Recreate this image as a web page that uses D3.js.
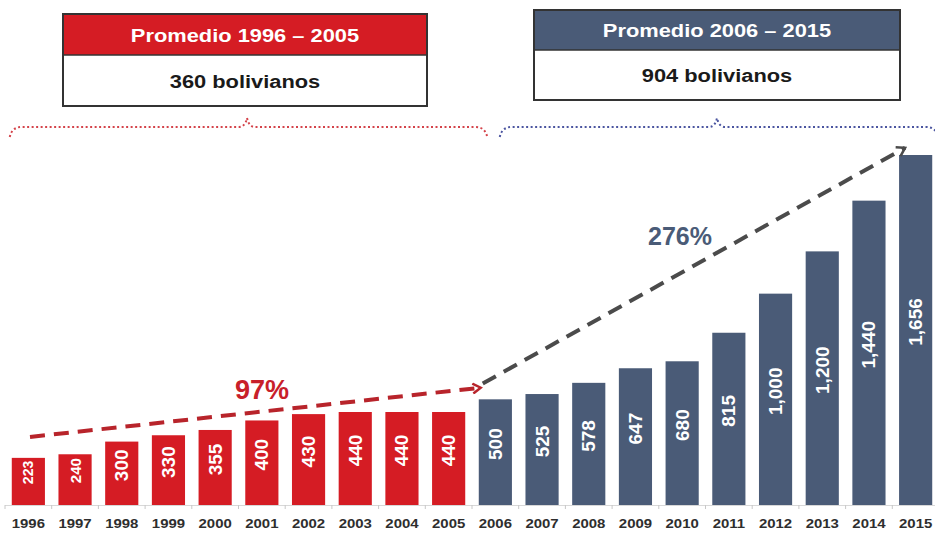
<!DOCTYPE html>
<html>
<head>
<meta charset="utf-8">
<script src="https://cdn.jsdelivr.net/npm/d3@7"></script>
<style>
  body { margin: 0; background: #fff; }
  svg { display: block; font-family: "Liberation Sans", Arial, sans-serif; }
</style>
</head>
<body>
<div id="chart"></div>
<script>
// data
var years = ["1996","1997","1998","1999","2000","2001","2002","2003","2004","2005",
             "2006","2007","2008","2009","2010","2011","2012","2013","2014","2015"];
var salary = [223,240,300,330,355,400,430,440,440,440,
              500,525,578,647,680,815,1000,1200,1440,1656];
var periodTitles = ["Promedio 1996 – 2005", "Promedio 2006 – 2015"];
var periodAverages = ["360 bolivianos", "904 bolivianos"];
var growthLabels = ["97%", "276%"];

var width = 935, height = 533;
var red = "#d51c24", blue = "#4a5b77", redDash = "#b8242b", grayDash = "#4b4b4b";
var stretch = 1.15;

var svg = d3.select("#chart").append("svg")
    .attr("width", width)
    .attr("height", height);

var x = d3.scaleBand()
    .domain(years)
    .range([5, 939])
    .paddingInner(0.29)
    .paddingOuter(0.145);

var y = d3.scaleLinear()
    .domain([0, d3.max(salary)])
    .range([505, 155]);

var colorOf = function(i) { return i < 10 ? red : blue; };

// baseline + little ticks
svg.append("line")
    .attr("x1", 5).attr("x2", 935)
    .attr("y1", y(0) + 0.5).attr("y2", y(0) + 0.5)
    .attr("stroke", "#d8d8d8");
svg.append("g").selectAll("line")
    .data(years)
    .enter().append("line")
      .attr("x1", function(d) { return x(d) - x.step() * 0.145; })
      .attr("x2", function(d) { return x(d) - x.step() * 0.145; })
      .attr("y1", y(0)).attr("y2", y(0) + 4)
      .attr("stroke", "#c8c8c8");

// bars
svg.append("g").selectAll("rect")
    .data(salary)
    .enter().append("rect")
      .attr("x", function(d, i) { return x(years[i]); })
      .attr("y", function(d) { return y(d); })
      .attr("width", x.bandwidth())
      .attr("height", function(d) { return y(0) - y(d); })
      .attr("fill", function(d, i) { return colorOf(i); });

// value labels inside bars (short bars get a smaller font)
var fmt = d3.format(",");
svg.append("g").selectAll("text")
    .data(salary)
    .enter().append("text")
      .attr("transform", function(d, i) {
        var cx = x(years[i]) + x.bandwidth() / 2;
        var cy = (y(d) + y(0)) / 2 - 8;
        if (y(0) - y(d) < 60) cy = (y(d) + y(0)) / 2 - 9;
        return "translate(" + cx + "," + cy + ") rotate(-90)";
      })
      .attr("text-anchor", "middle")
      .attr("dominant-baseline", "central")
      .attr("fill", "#fff")
      .attr("font-weight", "bold")
      .attr("font-size", function(d) { return Math.min(19, (y(0) - y(d)) * 0.3) + "px"; })
      .text(function(d) { return fmt(d); });

// year labels
svg.append("g").selectAll("text")
    .data(years)
    .enter().append("text")
      .attr("transform", function(d) {
        return "translate(" + (x(d) + x.bandwidth() / 2) + ",528) scale(" + stretch + ",1)";
      })
      .attr("text-anchor", "middle")
      .attr("fill", "#2e2e2e")
      .attr("font-weight", "bold")
      .attr("font-size", "13px")
      .text(function(d) { return d; });

// dashed trend arrows
var defs = svg.append("defs");
[["arrowRed", redDash], ["arrowGray", grayDash]].forEach(function(m) {
  defs.append("marker")
      .attr("id", m[0])
      .attr("viewBox", "-10 -6 12 12")
      .attr("refX", 0).attr("refY", 0)
      .attr("markerWidth", 12).attr("markerHeight", 12)
      .attr("markerUnits", "userSpaceOnUse")
      .attr("orient", "auto")
    .append("path")
      .attr("d", "M-8,-5 L0,0 L-8,5")
      .attr("fill", "none")
      .attr("stroke", m[1])
      .attr("stroke-width", 2.5);
});

var bw = x.bandwidth();
svg.append("line")
    .attr("x1", x("1996") + bw * 0.55).attr("y1", y(322))
    .attr("x2", x("2006") + 2).attr("y2", y(555))
    .attr("stroke", redDash)
    .attr("stroke-width", 4)
    .attr("stroke-dasharray", "15,9")
    .attr("marker-end", "url(#arrowRed)");

svg.append("line")
    .attr("x1", x("2006") + 4).attr("y1", y(575))
    .attr("x2", x("2015") + 6).attr("y2", y(1690))
    .attr("stroke", grayDash)
    .attr("stroke-width", 4)
    .attr("stroke-dasharray", "15,9")
    .attr("marker-end", "url(#arrowGray)");

svg.append("text")
    .attr("x", 262).attr("y", 399)
    .attr("text-anchor", "middle")
    .attr("fill", "#c8202a")
    .attr("font-weight", "bold")
    .attr("font-size", "27px")
    .text(growthLabels[0]);

svg.append("text")
    .attr("x", 680).attr("y", 245)
    .attr("text-anchor", "middle")
    .attr("fill", blue)
    .attr("font-weight", "bold")
    .attr("font-size", "25px")
    .text(growthLabels[1]);

// dotted curly brackets over each period
function brace(x0, x1, xm, col) {
  var yl = 127;
  var p = d3.path();
  p.moveTo(x0, yl + 10);
  p.quadraticCurveTo(x0 + 2, yl, x0 + 12, yl);
  p.lineTo(xm - 8, yl);
  p.quadraticCurveTo(xm - 2, yl, xm, yl - 9);
  p.quadraticCurveTo(xm + 2, yl, xm + 8, yl);
  p.lineTo(x1 - 12, yl);
  p.quadraticCurveTo(x1 - 2, yl, x1, yl + 10);
  svg.append("path")
      .attr("d", p.toString())
      .attr("fill", "none")
      .attr("stroke", col)
      .attr("stroke-width", 2)
      .attr("stroke-dasharray", "2,2.5");
}
brace(x("1996") - 2, x("2005") + bw + 22, 247, "#d4434a");
brace(x("2006") + 21, 938, 717, "#4b55a0");

// summary boxes
var boxes = [
  {x0: 63, x1: 427, top: 14, mid: 55, bottom: 106, fill: red},
  {x0: 534, x1: 900, top: 10, mid: 50, bottom: 100, fill: blue}
];
boxes.forEach(function(b, i) {
  var g = svg.append("g");
  g.append("rect")
      .attr("x", b.x0).attr("y", b.top)
      .attr("width", b.x1 - b.x0).attr("height", b.bottom - b.top)
      .attr("fill", "#fff");
  g.append("rect")
      .attr("x", b.x0).attr("y", b.top)
      .attr("width", b.x1 - b.x0).attr("height", b.mid - b.top)
      .attr("fill", b.fill);
  g.append("rect")
      .attr("x", b.x0).attr("y", b.top)
      .attr("width", b.x1 - b.x0).attr("height", b.bottom - b.top)
      .attr("fill", "none")
      .attr("stroke", "#333")
      .attr("stroke-width", 2);
  g.append("line")
      .attr("x1", b.x0).attr("x2", b.x1)
      .attr("y1", b.mid).attr("y2", b.mid)
      .attr("stroke", "#333").attr("stroke-width", 1.5);
  var cx = (b.x0 + b.x1) / 2;
  g.append("text")
      .attr("transform", "translate(" + cx + "," + ((b.top + b.mid) / 2 + 7) + ") scale(" + stretch + ",1)")
      .attr("text-anchor", "middle")
      .attr("fill", "#fff")
      .attr("font-weight", "bold")
      .attr("font-size", "19px")
      .text(periodTitles[i]);
  g.append("text")
      .attr("transform", "translate(" + cx + "," + ((b.mid + b.bottom) / 2 + 7) + ") scale(" + stretch + ",1)")
      .attr("text-anchor", "middle")
      .attr("fill", "#1a1a1a")
      .attr("font-weight", "bold")
      .attr("font-size", "19px")
      .text(periodAverages[i]);
});
</script>
</body>
</html>
